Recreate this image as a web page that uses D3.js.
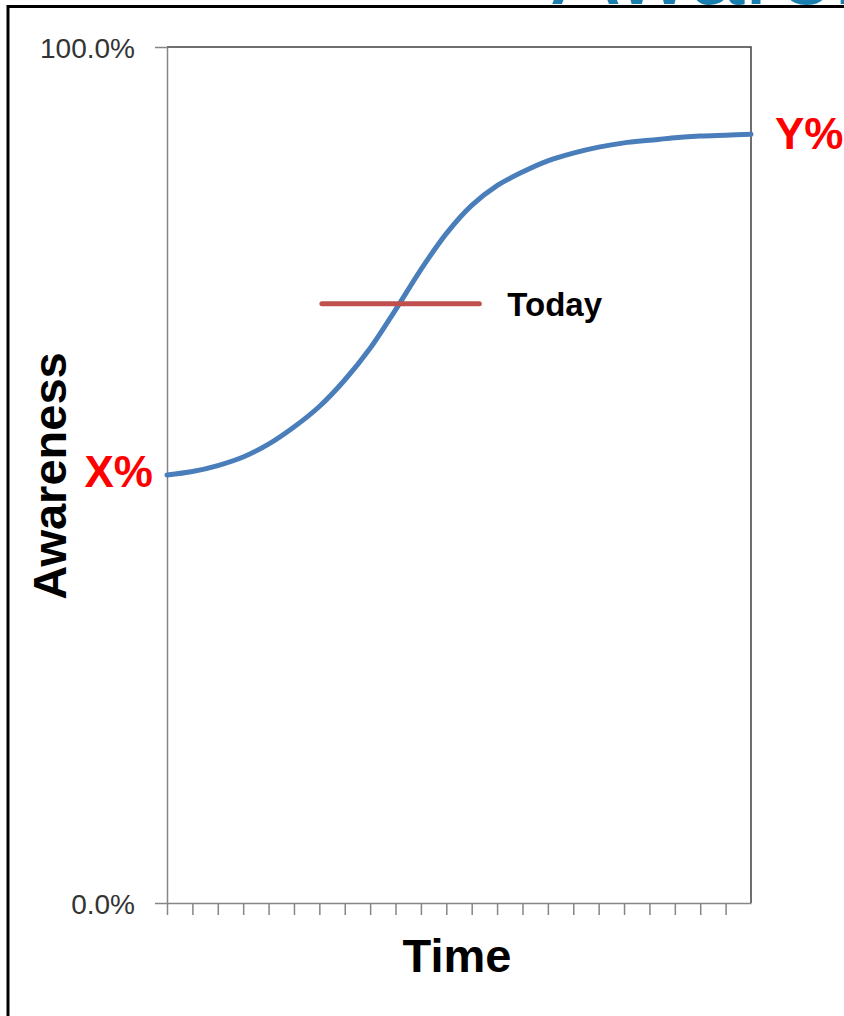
<!DOCTYPE html>
<html>
<head>
<meta charset="utf-8">
<script src="https://d3js.org/d3.v7.min.js"></script>
<style>
  body { margin: 0; background: #fff; }
  svg { display: block; }
  .axis path, .axis line { stroke: #868686; stroke-width: 1.5px; }
  .axis text { font-family: "Liberation Sans", Arial, sans-serif; font-size: 28px; fill: #333; }
</style>
</head>
<body>
<script>
// chart values
const periods = [0, 1, 2, 3, 4, 5, 6, 7, 8, 9, 10, 11, 12, 13, 14, 15, 16, 17, 18, 19, 20, 21, 22, 23];
const awareness = [50.0, 50.4, 51.1, 52.1, 53.6, 55.6, 58.0, 61.1, 64.8, 69.3, 74.0, 78.2,
                   81.5, 83.8, 85.4, 86.7, 87.6, 88.3, 88.8, 89.1, 89.4, 89.6, 89.7, 89.8];
const yTicks = [0, 1];
const xTicks = [0, 1, 2, 3, 4, 5, 6, 7, 8, 9, 10, 11, 12, 13, 14, 15, 16, 17, 18, 19, 20, 21, 22];
const todayStart = 6.1, todayEnd = 12.3, todayValue = 70;
const startLabel = 'X%', endLabel = 'Y%';

var margin = {top: 47, right: 93, bottom: 113, left: 167};
var width = 844 - margin.left - margin.right,
    height = 1016 - margin.top - margin.bottom;

const svg0 = d3.select('body').append('svg')
  .attr('width', 844)
  .attr('height', 1016)

// cut-off title peeking in at the top
svg0.append('text')
  .attr('x', 552)
  .attr('y', 4)
  .style('font-family', 'Liberation Sans, Arial, sans-serif')
  .style('font-size', '100px')
  .style('fill', '#1a7fae')
  .text('Awareness')

// slide frame
svg0.append('path')
  .attr('d', 'M8,1016 V6.5 H844')
  .attr('fill', 'none')
  .attr('stroke', '#000')
  .attr('stroke-width', 3)

const svg = svg0.append('g')
  .attr('transform', `translate(${margin.left}, ${margin.top})`)

const xScale = d3.scaleLinear()
  .domain([0, 23])
  .range([0, width])

const yScale = d3.scaleLinear()
  .domain([0, 1])
  .range([height, 0])

// plot area border (top + right)
svg.append('path')
  .attr('d', `M0,0 H${width} V${height}`)
  .attr('fill', 'none')
  .attr('stroke', '#404040')
  .attr('stroke-width', 1.5)

const xAxis = d3.axisBottom(xScale)
  .tickValues(xTicks)
  .tickSize(12)
  .tickSizeOuter(0)
  .tickFormat('')

const yAxis = d3.axisLeft(yScale)
  .tickValues(yTicks)
  .tickSize(12)
  .tickSizeOuter(0)
  .tickPadding(20)
  .tickFormat(d3.format('.1%'))

svg.append('g')
  .attr('class', 'x axis')
  .attr('transform', `translate(0, ${height})`)
  .call(xAxis)

svg.append('g')
  .attr('class', 'y axis')
  .call(yAxis)

svg.selectAll('.y.axis text').attr('dy', '0.36em')

// awareness curve
const line = d3.line()
  .x((d, i) => xScale(periods[i]))
  .y(d => yScale(d / 100))
  .curve(d3.curveCatmullRom)

svg.append('path')
  .datum(awareness)
  .attr('d', line)
  .attr('fill', 'none')
  .attr('stroke', '#4a7ebb')
  .attr('stroke-width', 5)
  .attr('stroke-linecap', 'round')

// today marker
svg.append('line')
  .attr('x1', xScale(todayStart))
  .attr('x2', xScale(todayEnd))
  .attr('y1', yScale(todayValue / 100))
  .attr('y2', yScale(todayValue / 100))
  .attr('stroke', '#c0504d')
  .attr('stroke-width', 5)
  .attr('stroke-linecap', 'round')

svg.append('text')
  .attr('x', xScale(todayEnd) + 28)
  .attr('y', yScale(todayValue / 100) + 12)
  .style('font-family', 'Liberation Sans, Arial, sans-serif')
  .style('font-weight', 'bold')
  .style('font-size', '33px')
  .text('Today')

// start / end labels
svg.append('text')
  .attr('x', -14)
  .attr('y', yScale(awareness[0] / 100) + 12)
  .attr('text-anchor', 'end')
  .style('font-family', 'Liberation Sans, Arial, sans-serif')
  .style('font-weight', 'bold')
  .style('font-size', '44px')
  .style('fill', '#ff0000')
  .text(startLabel)

svg.append('text')
  .attr('x', width + 24)
  .attr('y', yScale(awareness[awareness.length - 1] / 100) + 15)
  .style('font-family', 'Liberation Sans, Arial, sans-serif')
  .style('font-weight', 'bold')
  .style('font-size', '44px')
  .style('fill', '#ff0000')
  .text(endLabel)

// axis titles
svg.append('text')
  .attr('x', width / 2 - 2)
  .attr('y', height + 69)
  .attr('text-anchor', 'middle')
  .style('font-family', 'Liberation Sans, Arial, sans-serif')
  .style('font-weight', 'bold')
  .style('font-size', '47px')
  .text('Time')

svg.append('text')
  .attr('transform', `translate(${-167 + 66}, ${476 - margin.top}) rotate(-90)`)
  .attr('text-anchor', 'middle')
  .style('font-family', 'Liberation Sans, Arial, sans-serif')
  .style('font-weight', 'bold')
  .style('font-size', '47px')
  .text('Awareness')
</script>
</body>
</html>
